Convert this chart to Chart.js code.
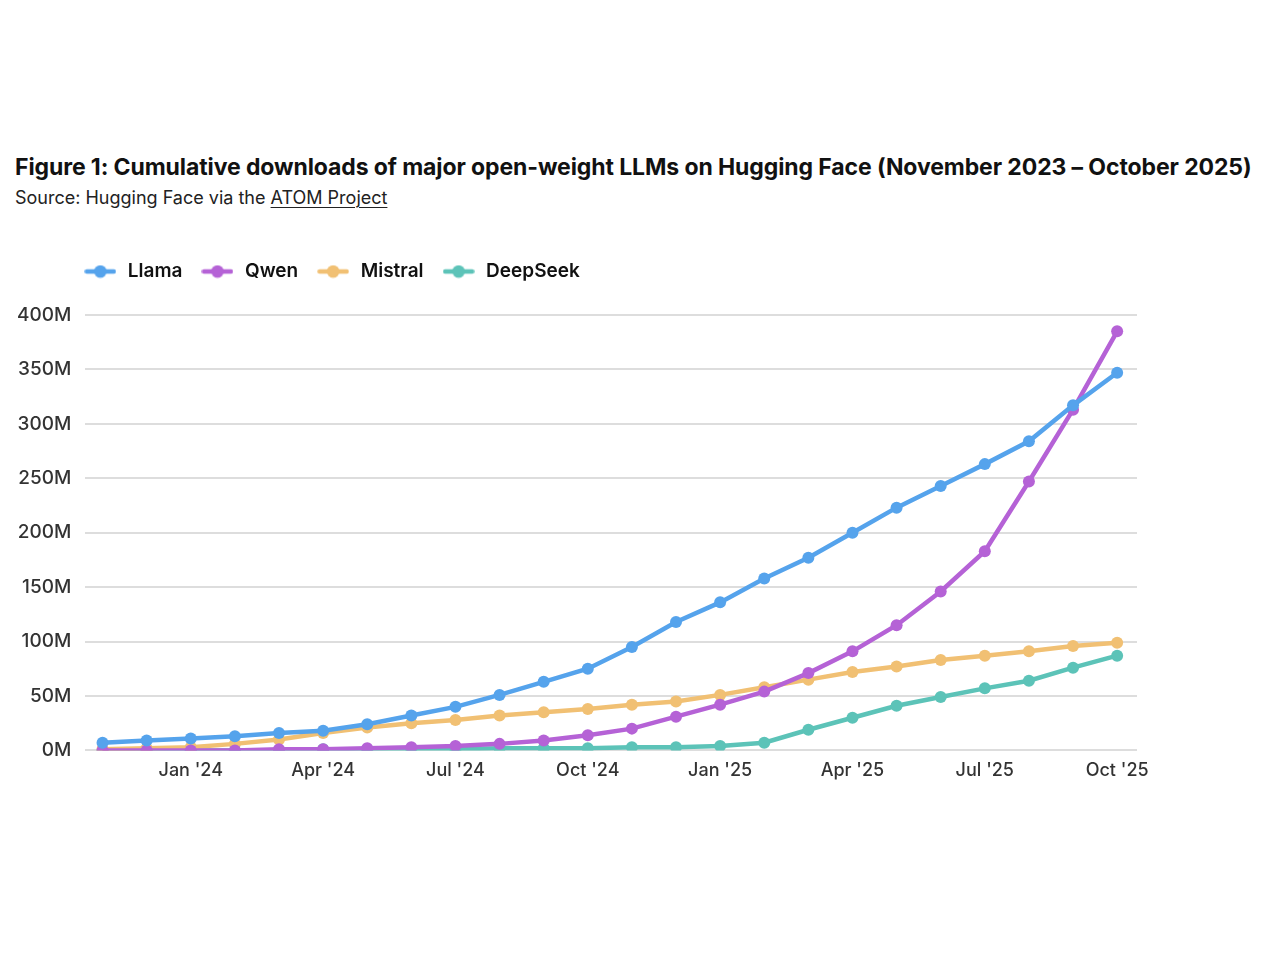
<!DOCTYPE html>
<html>
<head>
<meta charset="utf-8">
<script src="https://cdn.jsdelivr.net/npm/chart.js@4.4.1/dist/chart.umd.min.js"></script>
<style>
  html, body { margin: 0; padding: 0; background: #fff; width: 1280px; height: 960px; overflow: hidden; }
  #title { position: absolute; left: 15px; top: 153px; font-family: Inter, sans-serif; font-weight: 700; font-size: 23px; color: #111; white-space: nowrap; letter-spacing: -0.1px; }
  #sub { position: absolute; left: 15px; top: 187px; font-family: Inter, sans-serif; font-weight: 400; font-size: 18px; color: #222; white-space: nowrap; }
  #sub u { text-decoration: underline; text-underline-offset: 3px; text-decoration-thickness: 1px; }
  #wrap { position: absolute; left: 0; top: 245px; width: 1280px; height: 560px; }
</style>
</head>
<body>
<div id="title">Figure 1: Cumulative downloads of major open-weight LLMs on Hugging Face (November 2023 – October 2025)</div>
<div id="sub">Source: Hugging Face via the <u>ATOM Project</u></div>
<div id="wrap"><canvas id="c"></canvas></div>
<script>
// Months Nov 2023 .. Oct 2025 (index 0..23)
const months = ["Nov '23","Dec '23","Jan '24","Feb '24","Mar '24","Apr '24","May '24","Jun '24","Jul '24","Aug '24","Sep '24","Oct '24",
                "Nov '24","Dec '24","Jan '25","Feb '25","Mar '25","Apr '25","May '25","Jun '25","Jul '25","Aug '25","Sep '25","Oct '25"];
const tickMonths = ["Jan '24","Apr '24","Jul '24","Oct '24","Jan '25","Apr '25","Jul '25","Oct '25"];
const yTicks = [0, 50, 100, 150, 200, 250, 300, 350, 400];
// Values in millions of cumulative downloads
const llama    = [7, 9, 11, 13, 16, 18, 24, 32, 40, 51, 63, 75, 95, 118, 136, 158, 177, 200, 223, 243, 263, 284, 317, 347];
const qwen     = [0, 0, 0, 0, 1, 1, 2, 3, 4, 6, 9, 14, 20, 31, 42, 54, 71, 91, 115, 146, 183, 247, 313, 385];
const mistral  = [1, 2, 3, 6, 10, 16, 21, 25, 28, 32, 35, 38, 42, 45, 51, 58, 65, 72, 77, 83, 87, 91, 96, 99];
const deepseek = [0, 0, 0, 0, 0, 1, 1, 1, 1, 2, 2, 2, 3, 3, 4, 7, 19, 30, 41, 49, 57, 64, 76, 87];

const seriesNames = ["Llama", "Qwen", "Mistral", "DeepSeek"];
const seriesData = [llama, qwen, mistral, deepseek];
const colors = ["#55a3ec", "#b562d6", "#f1c073", "#5cc3b8"];

function legendIcon(color) {
  const c = document.createElement('canvas');
  c.width = 32; c.height = 14;
  const g = c.getContext('2d');
  g.strokeStyle = color; g.lineWidth = 4.5; g.lineCap = 'round';
  g.beginPath(); g.moveTo(2.5, 7); g.lineTo(29.5, 7); g.stroke();
  g.fillStyle = color;
  g.beginPath(); g.arc(16, 7, 6.3, 0, Math.PI * 2); g.fill();
  return c;
}
const icons = colors.map(legendIcon);

const datasets = seriesNames.map((name, i) => ({
  label: name,
  data: seriesData[i].map((v, k) => ({ x: k, y: v })),
  borderColor: colors[i],
  backgroundColor: colors[i],
  borderWidth: 4.5,
  pointRadius: 6,
  pointHoverRadius: 6,
  pointBorderWidth: 0,
  tension: 0
}));

const tickIdx = tickMonths.map(m => months.indexOf(m));

const legendTweak = {
  id: 'legendTweak',
  beforeInit(chart) {
    const lg = chart.legend;
    const origFit = lg.fit;
    lg.fit = function () { origFit.call(this); this.height += 24; };
  },
  afterLayout(chart) {
    chart.legend.left -= 20;
  }
};

new Chart(document.getElementById('c'), {
  type: 'line',
  data: { datasets },
  plugins: [legendTweak],
  options: {
    responsive: true,
    maintainAspectRatio: false,
    animation: false,
    layout: { padding: { left: 3, right: 143, top: 0, bottom: 15 } },
    plugins: {
      tooltip: { enabled: false },
      legend: {
        position: 'top',
        align: 'start',
        fullSize: false,
        labels: {
          usePointStyle: true,
          pointStyleWidth: 36,
          padding: 17,
          color: '#111',
          font: { family: 'Inter, sans-serif', size: 19, weight: '600' },
          generateLabels: (chart) => chart.data.datasets.map((d, i) => ({
            text: d.label,
            fillStyle: d.borderColor,
            strokeStyle: d.borderColor,
            lineWidth: 0,
            pointStyle: icons[i],
            fontColor: '#111',
            hidden: false,
            datasetIndex: i
          }))
        }
      }
    },
    scales: {
      x: {
        type: 'linear',
        min: -0.39,
        max: 23.45,
        afterBuildTicks: (axis) => { axis.ticks = tickIdx.map(v => ({ value: v })); },
        ticks: {
          autoSkip: false,
          maxRotation: 0,
          padding: 9,
          color: '#333',
          font: { family: 'Inter, sans-serif', size: 18, weight: '500' },
          callback: (v) => months[v]
        },
        grid: { display: false, drawTicks: false },
        border: { display: false }
      },
      y: {
        min: 0,
        max: 400,
        afterBuildTicks: (axis) => { axis.ticks = yTicks.map(v => ({ value: v })); },
        ticks: {
          padding: 14,
          color: '#333',
          font: { family: 'Inter, sans-serif', size: 19, weight: '500' },
          callback: (v) => v + 'M'
        },
        grid: { color: '#dddddd', lineWidth: 2, drawTicks: false },
        border: { display: false }
      }
    }
  }
});
</script>
</body>
</html>
